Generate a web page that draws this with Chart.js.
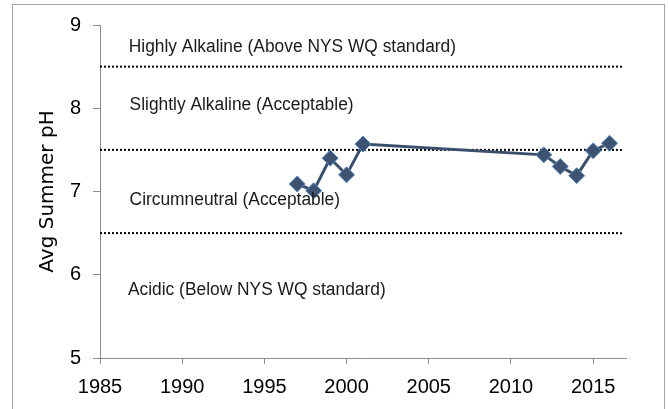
<!DOCTYPE html>
<html>
<head>
<meta charset="utf-8">
<script src="https://cdn.jsdelivr.net/npm/chart.js@4"></script>
<style>
  html, body { margin: 0; padding: 0; background: #fff; }
  #wrap { width: 668px; height: 409px; position: relative; }
</style>
</head>
<body>
<div id="wrap"><canvas id="phChart" width="668" height="409"></canvas></div>
<script>
// data
const years = [1997, 1998, 1999, 2000, 2001, 2012, 2013, 2014, 2015, 2016];
const phValues = [7.09, 7.01, 7.40, 7.20, 7.57, 7.44, 7.30, 7.19, 7.49, 7.58];
const thresholds = [8.5, 7.5, 6.5];
const thresholdSpan = [1985, 2016.75];
const bandLabels = [
  "Highly Alkaline (Above NYS WQ standard)",
  "Slightly Alkaline (Acceptable)",
  "Circumneutral (Acceptable)",
  "Acidic (Below NYS WQ standard)"
];
const bandLabelY = [8.74, 8.04, 6.90, 5.82];
const bandLabelX = [1986.75, 1986.8, 1986.8, 1986.7];
const xTicks = [1985, 1990, 1995, 2000, 2005, 2010, 2015];
const yTicks = [5, 6, 7, 8, 9];

const ctx = document.querySelector("#phChart");

const thresholdSets = thresholds.map(function (t) {
  return {
    data: thresholdSpan.map(function (x) { return { x: x, y: t }; }),
    borderColor: "#000",
    borderWidth: 2,
    borderDash: [2, 2],
    pointRadius: 0,
    fill: false,
    order: 2,
  };
});

const bandText = {
  id: "bandText",
  afterDatasetsDraw(chart) {
    const c = chart.ctx;
    const xs = chart.scales.x, ys = chart.scales.y;
    c.save();
    c.font = "18px 'Liberation Sans', sans-serif";
    c.fillStyle = "#1a1a1a";
    c.textBaseline = "middle";
    c.textAlign = "left";
    bandLabels.forEach(function (txt, i) {
      const px = xs.getPixelForValue(bandLabelX[i]);
      const py = ys.getPixelForValue(bandLabelY[i]);
      c.save();
      c.translate(px, py);
      c.scale(0.965, 1);
      c.fillText(txt, 0, 0);
      c.restore();
    });
    c.restore();
  },
  beforeDraw(chart) {
    const c = chart.ctx;
    c.save();
    c.strokeStyle = "#a6a6a6";
    c.lineWidth = 1;
    c.strokeRect(12.5, 4.5, 652, 420);
    c.restore();
  }
};

const myChart = new Chart(ctx, {
  type: "line",
  data: {
    datasets: thresholdSets.concat([
      {
        data: years.map(function (y, i) { return { x: y, y: phValues[i] }; }),
        borderColor: "#3b4e6b",
        borderWidth: 3,
        pointStyle: "rectRot",
        pointRadius: 8,
        pointBackgroundColor: "#3e5272",
        pointBorderColor: "#5b8bc4",
        pointBorderWidth: 1,
        fill: false,
        order: 1,
      },
    ]),
  },
  options: {
    responsive: false,
    animation: false,
    layout: { padding: { left: 0, top: 25, right: 42, bottom: 0 } },
    plugins: {
      legend: { display: false },
      tooltip: { enabled: false },
    },
    scales: {
      x: {
        type: "linear",
        min: 1985,
        max: 2017,
        afterBuildTicks(scale) {
          scale.ticks = xTicks.map(function (v) { return { value: v }; });
        },
        afterFit(scale) { scale.height = 51; },
        grid: { drawOnChartArea: false, drawTicks: true, tickLength: 6, color: "#8c8c8c" },
        border: { color: "#8c8c8c", width: 1 },
        ticks: {
          color: "#000",
          font: { family: "'Liberation Sans', sans-serif", size: 20 },
          padding: 11,
          maxRotation: 0,
          callback: function (v) { return String(v); },
        },
      },
      y: {
        min: 5,
        max: 9,
        afterBuildTicks(scale) {
          scale.ticks = yTicks.map(function (v) { return { value: v }; });
        },
        afterFit(scale) { scale.width = 100; },
        grid: { drawOnChartArea: false, drawTicks: true, tickLength: 7, color: "#8c8c8c" },
        border: { color: "#8c8c8c", width: 1 },
        ticks: {
          color: "#000",
          font: { family: "'Liberation Sans', sans-serif", size: 20 },
          padding: 12,
        },
        title: {
          display: true,
          text: "Avg Summer pH",
          color: "#000",
          font: { family: "'DejaVu Sans', sans-serif", size: 20 },
          padding: { top: 36, bottom: 0 },
        },
      },
    },
  },
  plugins: [bandText],
});
</script>
</body>
</html>
